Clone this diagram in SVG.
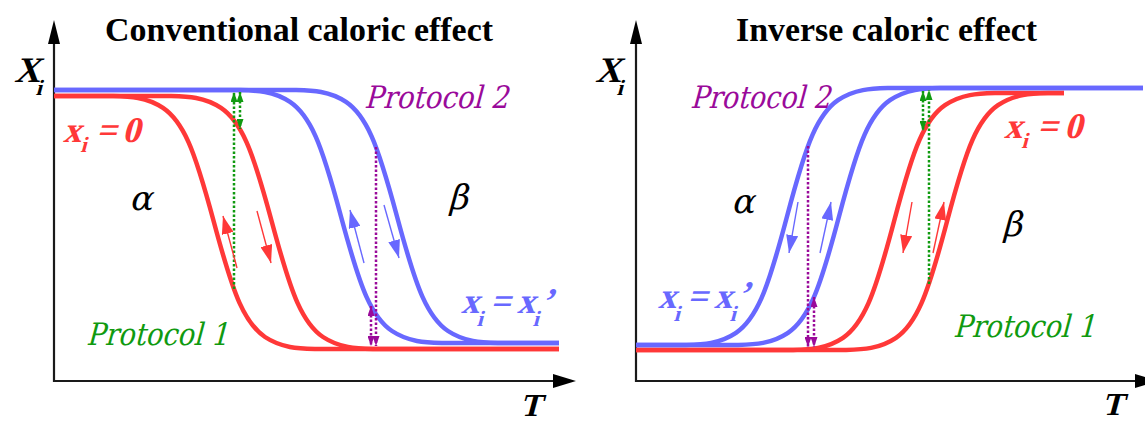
<svg xmlns="http://www.w3.org/2000/svg" width="1145" height="423" viewBox="0 0 1145 423">
<style>
text{font-family:"Liberation Serif","Times New Roman",serif}
.title{font-size:34px;font-weight:bold;fill:#000}
.bi{font-weight:bold}
.it{font-family:"DejaVu Serif","Liberation Serif",serif;font-weight:normal}
.ax{stroke:#1a1a1a;stroke-width:2.2;fill:none}
.ah{fill:#000}
.red{stroke:#ff3838;fill:none;stroke-width:4.5}
.blue{stroke:#6868ff;fill:none;stroke-width:4.5}
.gdot{stroke:#109a10;stroke-width:2.5;stroke-dasharray:2.5 2;fill:none}
.pdot{stroke:#9a0a9a;stroke-width:2.5;stroke-dasharray:2.5 2;fill:none}
.rarr{stroke:#ff3838;stroke-width:1.4;fill:none}
.barr{stroke:#6868ff;stroke-width:1.4;fill:none}
.proto{font-family:"DejaVu Serif","Liberation Serif",serif;font-weight:normal;font-size:31px}
.tred{fill:#ff3838}
.tblue{fill:#6868ff}
.tgreen{fill:#109a10}
.tpurple{fill:#9a0a9a}
</style>
<defs>
<path id="sig" vector-effect="non-scaling-stroke" d="M -40 0 L -6 0 C -5 0.002 -4 0.003 -3 0.0474 C -2.5 0.07 -2 0.1079 -1.5 0.1824 C -1 0.257 -0.5 0.375 0 0.5 C 0.5 0.625 1 0.743 1.5 0.8176 C 2 0.8921 2.5 0.93 3 0.9526 C 4 0.997 5 0.998 6 1 L 40 1"/>
<clipPath id="cl"><rect x="54" y="0" width="505" height="423"/></clipPath>
<clipPath id="crb"><rect x="636" y="0" width="507" height="423"/></clipPath>
<clipPath id="crr"><rect x="636" y="0" width="428" height="423"/></clipPath>
<marker id="mg" viewBox="0 0 10 7" refX="10" refY="3.5" markerUnits="userSpaceOnUse" markerWidth="10" markerHeight="7" orient="auto-start-reverse"><path d="M0,0 L10,3.5 L0,7 z" fill="#109a10"/></marker>
<marker id="mp" viewBox="0 0 10 7" refX="10" refY="3.5" markerUnits="userSpaceOnUse" markerWidth="10" markerHeight="7" orient="auto-start-reverse"><path d="M0,0 L10,3.5 L0,7 z" fill="#9a0a9a"/></marker>
<marker id="mr" viewBox="0 0 18 12" refX="18" refY="6" markerUnits="userSpaceOnUse" markerWidth="18" markerHeight="12" orient="auto"><path d="M0,0 L18,6 L0,12 z" fill="#ff3838"/></marker>
<marker id="mb" viewBox="0 0 18 12" refX="18" refY="6" markerUnits="userSpaceOnUse" markerWidth="18" markerHeight="12" orient="auto"><path d="M0,0 L18,6 L0,12 z" fill="#6868ff"/></marker>
</defs>

<g id="left-panel">
  <g id="left-axes">
    <line class="ax" x1="54" y1="382" x2="54" y2="42"/>
    <polygon class="ah" points="54,20 48,44 60,44"/>
    <line class="ax" x1="53" y1="381" x2="555" y2="381"/>
    <polygon class="ah" points="576,381 553,374 553,388"/>
    <text class="bi" font-size="36" transform="translate(14,82) skewX(-15)"><tspan x="0" y="0">X</tspan><tspan x="25" y="13" font-size="22">i</tspan></text>
    <text class="bi" font-size="32" transform="translate(520,416) skewX(-15)">T</text>
  </g>
  <text class="title" x="105" y="41" textLength="388" lengthAdjust="spacingAndGlyphs">Conventional caloric effect</text>
  <g id="left-curves" clip-path="url(#cl)">
    <use href="#sig" class="red" transform="translate(214,96) scale(17,253)"/>
    <use href="#sig" class="red" transform="translate(272,96) scale(17,253)"/>
    <use href="#sig" class="blue" transform="translate(341,90) scale(17,253)"/>
    <use href="#sig" class="blue" transform="translate(397,90) scale(17,253)"/>
  </g>
  <g id="left-connectors">
    <line class="gdot" x1="234" y1="289" x2="234" y2="92" marker-end="url(#mg)"/>
    <line class="gdot" x1="240" y1="92" x2="240" y2="129" marker-start="url(#mg)" marker-end="url(#mg)"/>
    <line class="pdot" x1="376" y1="147" x2="376" y2="346" marker-end="url(#mp)"/>
    <line class="pdot" x1="371" y1="306" x2="371" y2="346" marker-start="url(#mp)" marker-end="url(#mp)"/>
    <line class="rarr" x1="237" y1="268" x2="223" y2="216" marker-end="url(#mr)"/>
    <line class="rarr" x1="257" y1="211" x2="271" y2="263" marker-end="url(#mr)"/>
    <line class="barr" x1="364" y1="263" x2="350" y2="210" marker-end="url(#mb)"/>
    <line class="barr" x1="384" y1="205" x2="399" y2="258" marker-end="url(#mb)"/>
  </g>
  <g id="left-labels">
    <text class="bi tred" font-size="36" transform="translate(63,142) skewX(-15)"><tspan x="0" y="0">x</tspan><tspan x="20" y="10" font-size="22">i</tspan><tspan x="33" y="0">=</tspan><tspan x="59" y="0">0</tspan></text>
    <text class="bi tblue" font-size="36" transform="translate(461,313) skewX(-15)"><tspan x="0" y="0">x</tspan><tspan x="19" y="13" font-size="22">i</tspan><tspan x="29" y="0">=</tspan><tspan x="56" y="0">x</tspan><tspan x="75" y="13" font-size="22">i</tspan><tspan x="80" y="0">’</tspan></text>
    <text class="it" font-size="34" transform="translate(129,210) skewX(-15)">α</text>
    <text class="it" font-size="34" transform="translate(448,209) skewX(-15)">β</text>
    <text class="proto tpurple" transform="translate(364,108) skewX(-15)" x="0" y="0" textLength="144" lengthAdjust="spacingAndGlyphs">Protocol 2</text>
    <text class="proto tgreen" transform="translate(86,345) skewX(-15)" x="0" y="0" textLength="142" lengthAdjust="spacingAndGlyphs">Protocol 1</text>
  </g>
</g>

<g id="right-panel">
  <g id="right-axes">
    <line class="ax" x1="636" y1="382" x2="636" y2="42"/>
    <polygon class="ah" points="636,20 630,44 642,44"/>
    <line class="ax" x1="635" y1="381" x2="1137" y2="381"/>
    <polygon class="ah" points="1158,381 1135,374 1135,388"/>
    <text class="bi" font-size="36" transform="translate(595,82) skewX(-15)"><tspan x="0" y="0">X</tspan><tspan x="25" y="13" font-size="22">i</tspan></text>
    <text class="bi" font-size="32" transform="translate(1102,415) skewX(-15)">T</text>
  </g>
  <text class="title" x="736" y="41" textLength="301" lengthAdjust="spacingAndGlyphs">Inverse caloric effect</text>
  <g id="right-curves">
    <g clip-path="url(#crr)">
      <use href="#sig" class="red" transform="translate(894,350) scale(17,-257)"/>
      <use href="#sig" class="red" transform="translate(947,350) scale(17,-257)"/>
    </g>
    <g clip-path="url(#crb)">
      <use href="#sig" class="blue" transform="translate(787,345) scale(17,-257)"/>
      <use href="#sig" class="blue" transform="translate(839,345) scale(17,-257)"/>
    </g>
  </g>
  <g id="right-connectors">
    <line class="gdot" x1="929" y1="284" x2="929" y2="90" marker-end="url(#mg)"/>
    <line class="gdot" x1="923" y1="91" x2="923" y2="131" marker-start="url(#mg)" marker-end="url(#mg)"/>
    <line class="pdot" x1="808" y1="146" x2="808" y2="347" marker-end="url(#mp)"/>
    <line class="pdot" x1="814" y1="297" x2="814" y2="347" marker-start="url(#mp)" marker-end="url(#mp)"/>
    <line class="barr" x1="798" y1="202" x2="789" y2="253" marker-end="url(#mb)"/>
    <line class="barr" x1="820" y1="253" x2="831" y2="202" marker-end="url(#mb)"/>
    <line class="rarr" x1="912" y1="202" x2="903" y2="253" marker-end="url(#mr)"/>
    <line class="rarr" x1="933" y1="253" x2="944" y2="202" marker-end="url(#mr)"/>
  </g>
  <g id="right-labels">
    <text class="bi tred" font-size="36" transform="translate(1004,138) skewX(-15)"><tspan x="0" y="0">x</tspan><tspan x="20" y="10" font-size="22">i</tspan><tspan x="33" y="0">=</tspan><tspan x="60" y="0">0</tspan></text>
    <text class="bi tblue" font-size="36" transform="translate(658,308) skewX(-15)"><tspan x="0" y="0">x</tspan><tspan x="19" y="13" font-size="22">i</tspan><tspan x="29" y="0">=</tspan><tspan x="56" y="0">x</tspan><tspan x="75" y="13" font-size="22">i</tspan><tspan x="79" y="-2">’</tspan></text>
    <text class="it" font-size="34" transform="translate(731,213) skewX(-15)">α</text>
    <text class="it" font-size="34" transform="translate(1002,236) skewX(-15)">β</text>
    <text class="proto tpurple" transform="translate(690,108) skewX(-15)" x="0" y="0" textLength="140" lengthAdjust="spacingAndGlyphs">Protocol 2</text>
    <text class="proto tgreen" transform="translate(953,337) skewX(-15)" x="0" y="0" textLength="142" lengthAdjust="spacingAndGlyphs">Protocol 1</text>
  </g>
</g>
</svg>
